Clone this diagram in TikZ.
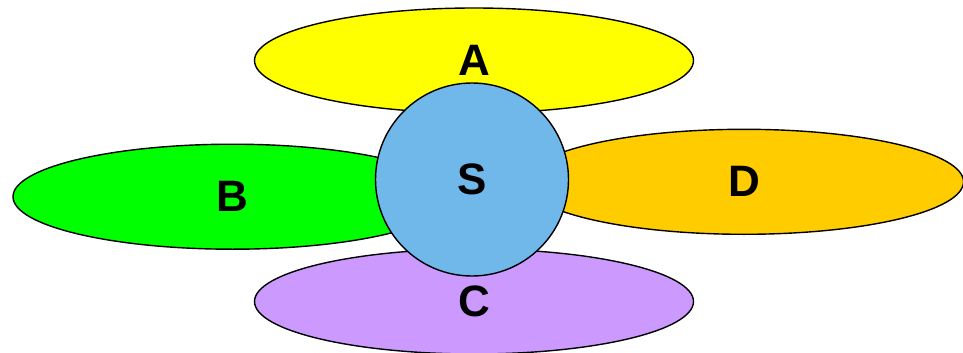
\documentclass[tikz,border=0pt]{standalone}
\usepackage{fontspec}
\setmainfont{Liberation Sans}
\usetikzlibrary{shapes.geometric}
\definecolor{petA}{HTML}{FFFF00}
\definecolor{petB}{HTML}{00FF00}
\definecolor{petC}{HTML}{CC99FF}
\definecolor{petD}{HTML}{FFCC00}
\definecolor{core}{HTML}{70B8E9}
\tikzset{
  petal/.style={ellipse, draw=black, line width=1.4pt, inner sep=0pt,
    minimum width=439pt, minimum height=105pt,
    font=\fontsize{44}{44}\selectfont\bfseries},
  corecircle/.style={circle, draw=black, line width=1.4pt, inner sep=0pt,
    minimum size=193pt, fill=core,
    font=\fontsize{44}{44}\selectfont\bfseries}
}
\begin{document}
\begin{tikzpicture}[x=1pt,y=-1pt]
\useasboundingbox (0,0) rectangle (963,353);
\node[petal, fill=petA] (A) at (474,60.5) {A};
\node[petal, fill=petB] (B) at (232.5,196.7) {B};
\node[petal, fill=petD] (D) at (744,181.8) {D};
\node[petal, fill=petC] (C) at (474,301.5) {C};
\node[corecircle] (S) at (472,179.5) {S};
\end{tikzpicture}
\end{document}
